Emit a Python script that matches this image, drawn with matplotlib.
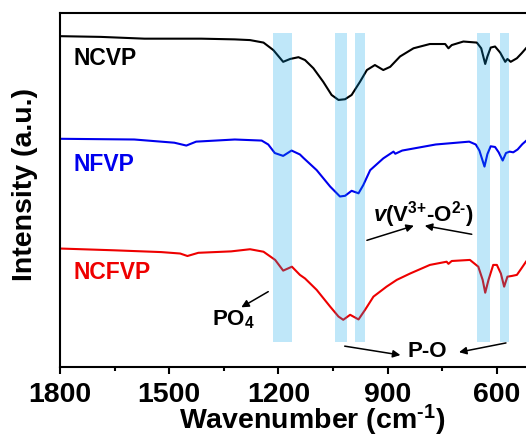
import numpy as np
import matplotlib
matplotlib.use("Agg")
import matplotlib.pyplot as plt

plt.rcParams['font.family'] = ['Liberation Sans', 'DejaVu Sans']
plt.rcParams['font.weight'] = 'bold'
plt.rcParams['mathtext.fontset'] = 'custom'
plt.rcParams['mathtext.rm'] = 'Liberation Sans:bold'
plt.rcParams['mathtext.bf'] = 'Liberation Sans:bold'
plt.rcParams['mathtext.it'] = 'Liberation Sans:italic:bold'

# spectra (wavenumber, intensity in a.u.)
wn_ncvp = [1800, 1688, 1568, 1412, 1320, 1278, 1241, 1214, 1187, 1168, 1145, 1127, 1104, 1077,
           1054, 1035, 1017, 999, 976, 957, 935, 912, 893, 866, 829, 784, 742, 733, 724, 692,
           655, 643, 632, 626, 617, 605, 591, 577, 571, 562, 545, 532, 520]
i_ncvp = [93.6, 93.4, 92.9, 92.9, 92.7, 92.5, 91.8, 89.7, 86.4, 87.2, 87.7, 86.9, 84.6, 80.8,
          77.1, 75.7, 75.9, 77.1, 80.8, 84.1, 85.5, 84.1, 85.0, 87.9, 90.2, 91.4, 91.4, 90.2, 91.1, 92.1,
          91.8, 90.2, 85.8, 87.9, 90.4, 90.7, 89.0, 86.4, 87.2, 86.4, 87.4, 88.8, 90.2]

wn_nfvp = [1800, 1596, 1486, 1453, 1426, 1320, 1246, 1228, 1210, 1187, 1164, 1141, 1131, 1095,
           1058, 1031, 1017, 999, 980, 967, 948, 912, 884, 879, 860, 768, 676, 658, 648, 634,
           626, 617, 605, 595, 584, 575, 565, 555, 543, 530, 520]
i_nfvp = [64.8, 64.6, 63.7, 62.9, 64.0, 64.6, 64.3, 63.2, 60.8, 60.0, 61.5, 60.4, 59.4, 56.0,
          51.4, 48.6, 48.8, 50.2, 49.5, 51.8, 56.0, 59.3, 61.2, 60.6, 61.5, 63.2, 64.0, 63.2, 61.5, 57.0,
          60.5, 62.7, 62.5, 61.0, 58.7, 60.8, 61.2, 61.0, 61.8, 63.3, 64.2]

wn_ncfvp = [1800, 1651, 1522, 1470, 1450, 1420, 1330, 1278, 1241, 1209, 1187, 1163, 1141, 1127,
            1095, 1058, 1035, 1022, 1003, 980, 962, 939, 903, 875, 838, 784, 738, 733, 724, 674,
            651, 639, 632, 623, 610, 600, 589, 580, 571, 559, 545, 532, 520]
i_ncfvp = [34.0, 33.5, 33.0, 32.6, 31.9, 32.8, 33.2, 33.8, 33.1, 30.8, 27.8, 28.9, 26.6, 25.6,
           22.4, 17.7, 14.9, 14.0, 15.4, 14.1, 16.8, 20.5, 23.3, 25.2, 27.0, 29.4, 30.3, 29.7, 30.5, 30.8,
           28.9, 25.2, 21.6, 25.2, 29.4, 29.4, 27.0, 23.3, 26.1, 26.3, 26.6, 28.5, 30.3]

band_lo = [1214, 1045, 991, 655, 591]
band_hi = [1163, 1012, 962, 619, 568]

fig = plt.figure(figsize=(5.26, 4.37), dpi=100)
ax = fig.add_axes([0.1141, 0.1602, 0.8928, 0.8092])

ax.plot(wn_ncvp, i_ncvp, color='black', lw=1.5)
ax.plot(wn_nfvp, i_nfvp, color='#0000ee', lw=1.5)
ax.plot(wn_ncfvp, i_ncfvp, color='#ee0000', lw=1.5)

# bands sit on top of the lines
for lo, hi in zip(band_lo, band_hi):
    ax.fill_between([lo, hi], 7.8, 94.6, color='#00a0e9', alpha=0.25, lw=0, zorder=3)

ax.text(1762, 87.3, 'NCVP', color='black', fontsize=16.5, fontweight='bold', va='center')
ax.text(1764, 57.5, 'NFVP', color='#0000ee', fontsize=16.5, fontweight='bold', va='center')
ax.text(1764, 27.4, 'NCFVP', color='#ee0000', fontsize=16.5, fontweight='bold', va='center')

arr = dict(arrowstyle='-|>', color='black', lw=1.1, mutation_scale=11, shrinkA=0, shrinkB=0)
ax.text(802, 41.5, r'$\mathit{v}$(V$^{\text{3+}}$-O$^{\text{2-}}$)', fontsize=16, ha='center', va='baseline')
ax.annotate('', xy=(828, 40.4), xytext=(957, 36.3), arrowprops=arr)
ax.annotate('', xy=(798, 40.4), xytext=(669, 38.0), arrowprops=arr)

ax.text(1325, 12.3, r'PO$_4$', fontsize=16, ha='center', va='baseline')
ax.annotate('', xy=(1302, 17.5), xytext=(1228, 21.9), arrowprops=arr)

ax.text(791, 5.2, 'P-O', fontsize=16, ha='center', va='center')
ax.annotate('', xy=(865, 4.1), xytext=(1018, 6.6), arrowprops=arr)
ax.annotate('', xy=(704, 4.9), xytext=(575, 7.5), arrowprops=arr)

ax.set_xlim(1800, 510)
ax.set_ylim(0.75, 100)
ax.set_xticks([1800, 1500, 1200, 900, 600])
ax.set_xticks([1650, 1350, 1050, 750], minor=True)
ax.set_yticks([])
ax.tick_params(axis='x', which='major', direction='out', length=5.3, width=1.5, pad=5.3, labelsize=20.5)
ax.tick_params(axis='x', which='minor', direction='out', length=2.9, width=1.5)
for lab in ax.get_xticklabels():
    lab.set_fontweight('bold')
for s in ax.spines.values():
    s.set_linewidth(1.5)

ax.set_xlabel(r'Wavenumber (cm$^{\text{-1}}$)', fontsize=20.5, fontweight='bold')
ax.set_ylabel('Intensity (a.u.)', fontsize=20.5, fontweight='bold')
ax.xaxis.set_label_coords(0.536, -0.1005)
ax.yaxis.set_label_coords(-0.047, 0.515)

fig.savefig('out.png', dpi=100)
